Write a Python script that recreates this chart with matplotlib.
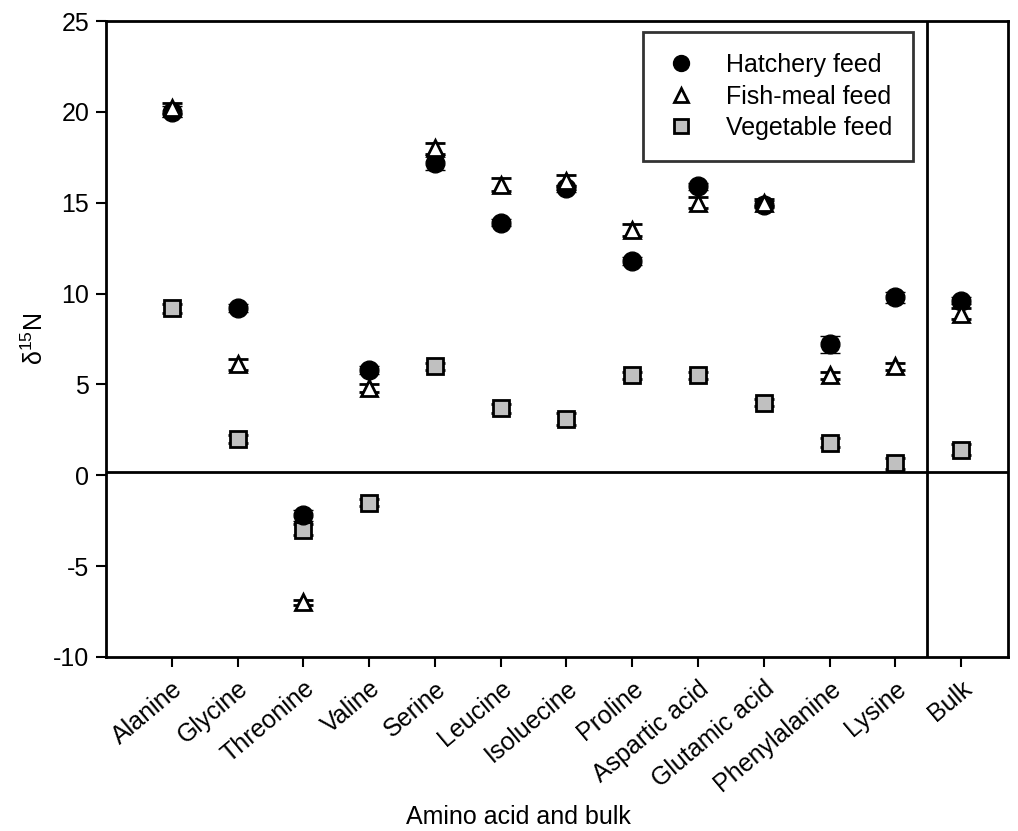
import matplotlib
matplotlib.use("Agg")
from matplotlib import pyplot as plt
import numpy as np

plt.rcParams['font.family'] = ['Liberation Sans', 'DejaVu Sans']
plt.rcParams['mathtext.default'] = 'regular'
plt.rcParams['axes.unicode_minus'] = False

# categories
amino = ["Alanine", "Glycine", "Threonine", "Valine", "Serine", "Leucine",
         "Isoluecine", "Proline", "Aspartic acid", "Glutamic acid",
         "Phenylalanine", "Lysine", "Bulk"]

# delta 15N values
hatchery = [20.0, 9.2, -2.2, 5.8, 17.2, 13.9, 15.8, 11.8, 15.9, 14.9, 7.2, 9.8, 9.6]
hatchery_err = [0.3, 0.2, 0.3, 0.2, 0.4, 0.2, 0.2, 0.2, 0.2, 0.2, 0.45, 0.3, 0.2]
fishmeal = [20.2, 6.1, -7.0, 4.8, 18.0, 16.0, 16.2, 13.5, 15.0, 15.0, 5.5, 6.0, 8.9]
fishmeal_err = [0.3, 0.3, 0.15, 0.2, 0.3, 0.35, 0.3, 0.35, 0.3, 0.2, 0.2, 0.2, 0.3]
vegetable = [9.2, 2.0, -3.0, -1.5, 6.0, 3.7, 3.1, 5.5, 5.5, 4.0, 1.8, 0.65, 1.4]
vegetable_err = [0.25, 0.2, 0.3, 0.2, 0.2, 0.25, 0.35, 0.2, 0.2, 0.2, 0.25, 0.3, 0.3]

x = np.arange(len(amino))

fig = plt.figure(figsize=(10.18, 8.31), dpi=100)
ax = fig.add_axes([0.1041, 0.2094, 0.886, 0.7653])

ax.axhline(0.2, color='black', lw=2, zorder=1)
ax.axvline(11.48, color='black', lw=2, zorder=1)

ebkw = dict(ecolor='black', elinewidth=1.5, capsize=7, capthick=2, ls='none')
ax.errorbar(x, vegetable, yerr=vegetable_err, fmt='s', ms=11.5, mfc='#c0c0c0',
            mec='black', mew=2, zorder=3, label='Vegetable feed', **ebkw)
ax.errorbar(x, hatchery, yerr=hatchery_err, fmt='o', ms=13.5, mfc='black',
            mec='black', mew=1, zorder=4, label='Hatchery feed', **ebkw)
ax.errorbar(x, fishmeal, yerr=fishmeal_err, fmt='^', ms=12, mfc='white',
            mec='black', mew=2, zorder=5, label='Fish-meal feed', **ebkw)

ax.set_xlim(-1.0, 12.71)
ax.set_ylim(-10, 25)
ax.set_yticks(np.arange(-10, 26, 5))
ax.set_xticks(x)
ax.set_xticklabels(amino, rotation=40, ha='right', rotation_mode='anchor', fontsize=18)
ax.tick_params(axis='y', labelsize=18, direction='out', length=7, width=1.5, pad=5)
ax.tick_params(axis='x', direction='out', length=7, width=1.5, pad=7)
for s in ax.spines.values():
    s.set_linewidth(2)

ax.set_ylabel('δ$^{15}$N', fontsize=18, labelpad=4)
ax.set_xlabel('Amino acid and bulk', fontsize=18)
ax.xaxis.set_label_coords(0.457, -0.232)

h, l = ax.get_legend_handles_labels()
order = [1, 2, 0]
hs = []
for i in order:
    hs.append(h[i][0])
leg = ax.legend(hs, [l[i] for i in order], loc='upper right',
                bbox_to_anchor=(0.895, 0.983), fontsize=18, frameon=True,
                fancybox=False, edgecolor='black', borderpad=0.85,
                handletextpad=1.15, handlelength=1.3, labelspacing=0.3,
                markerscale=0.85, borderaxespad=0)
leg.get_frame().set_linewidth(2)

fig.savefig('out.png', dpi=100)
